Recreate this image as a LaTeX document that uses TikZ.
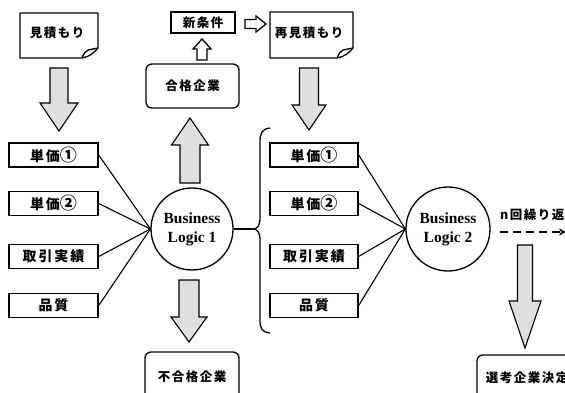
\documentclass[tikz,border=0pt]{standalone}
\usepackage{fontspec}
\usetikzlibrary{arrows.meta}
\setmainfont{Liberation Serif}
\newfontfamily\jplab{Noto Sans CJK JP}[LetterSpace=14]
\newfontfamily\jptxt{Noto Sans CJK JP}[LetterSpace=12]
\newfontfamily\blfont{Liberation Serif}
\newcommand\cd[1]{{\fontsize{17}{13}\selectfont #1}}
\newcommand\vblockarrow[6]{% x, ystart, ytip, shaft half, head half, head y
  \filldraw[barrow] (#1-#4,#2) -- (#1+#4,#2) -- (#1+#4,#6) -- (#1+#5,#6) -- (#1,#3) -- (#1-#5,#6) -- (#1-#4,#6) -- cycle;}
\newcommand\docshape[4]{% x1,y1,x2,y2
  \draw[docline] (#1,#2) -- (#3,#2) -- (#3,#4-10) .. controls (#3-4,#4-5) and (#3-9,#4-1) .. (#3-16,#4) -- (#1,#4) -- cycle;
  \draw[docline] (#3-16,#4) .. controls (#3-14,#4-4) and (#3-13,#4-7) .. (#3-10,#4-8) -- (#3,#4-10);}
\begin{document}
\begin{tikzpicture}[x=1pt,y=-1pt,
  docline/.style={line width=1.3pt,line join=round},
  lbox/.style={draw,line width=1.4pt,minimum width=89pt,minimum height=24pt,inner sep=0pt,
    font=\jplab\bfseries\fontsize{14}{14}\selectfont},
  rbox/.style={draw,line width=1.3pt,rounded corners=6pt,inner sep=0pt,
    font=\jptxt\bfseries\fontsize{12.5}{12.5}\selectfont},
  plain/.style={inner sep=0pt,font=\jptxt\bfseries\fontsize{12.5}{12.5}\selectfont},
  logic/.style={draw,circle,line width=1.3pt,inner sep=0pt,align=center,
    font=\blfont\bfseries\fontsize{15.5}{19}\selectfont},
  barrow/.style={draw=black,fill=gray!25,line width=1.1pt,line join=miter},
  warrow/.style={draw=black,fill=white,line width=1.3pt,line join=miter},
  link/.style={line width=1.1pt}]
\useasboundingbox (0,0) rectangle (565,393);
\clip (0,0) rectangle (565,393);
\fill[white] (0,0) rectangle (565,393);

% documents
\docshape{20}{13}{98}{58}
\node[plain] (doc1) at (57,33) {見積もり};
\docshape{270}{12}{353}{58}
\node[plain] (doc2) at (309,33) {再見積もり};

% top boxes
\node[draw,line width=1.3pt,minimum width=64pt,minimum height=21pt,inner sep=0pt,
  font=\jptxt\bfseries\fontsize{12.5}{12.5}\selectfont] (cond) at (203,22.5) {新条件};
\node[rbox,minimum width=93pt,minimum height=44pt] (pass) at (192.5,86) {合格企業};
\node[rbox,minimum width=94pt,minimum height=50pt] (fail) at (192,377) {不合格企業};
\node[rbox,minimum width=100pt,minimum height=45pt] (sel) at (527,377.5) {選考企業決定};

% left column
\node[lbox] (a1) at (53.5,155) {単価\cd{①}};
\node[lbox] (a2) at (53.5,203.5) {単価\cd{②}};
\node[lbox] (a3) at (53.5,256.5) {取引実績};
\node[lbox] (a4) at (53.5,305.5) {品質};
% right column
\node[lbox,minimum width=88pt] (b1) at (314,155) {単価\cd{①}};
\node[lbox,minimum width=88pt] (b2) at (314,203.5) {単価\cd{②}};
\node[lbox,minimum width=88pt] (b3) at (314,256.5) {取引実績};
\node[lbox,minimum width=88pt] (b4) at (314,305.5) {品質};

% circles
\node[logic,minimum size=82pt] (bl1) at (192,229) {Business\\Logic 1};
\node[logic,minimum size=84pt] (bl2) at (448,229) {Business\\Logic 2};

\foreach \n in {a1,a2,a3,a4} \draw[link] (\n.east) -- (bl1.west);
\foreach \n in {b1,b2,b3,b4} \draw[link] (\n.east) -- (bl2.west);

% brace
\coordinate (cusp) at (253,229);
\draw[line width=1.3pt] (bl1.east) -- (cusp);
\draw[line width=1.3pt] (270,128) .. controls (262,129) and (260,133) .. (260,142) -- (260,218)
  .. controls (260,226) and (257,229) .. (cusp)
  .. controls (257,229) and (260,232) .. (260,240) -- (260,320)
  .. controls (260,329) and (262,332) .. (270,333);

% block arrows
\vblockarrow{59}{68}{131}{9}{19}{103}
\vblockarrow{190}{183}{118}{10}{18.5}{145}
\vblockarrow{189}{280}{342}{10}{18}{317}
\vblockarrow{309}{68}{130}{9.5}{17}{105}
\vblockarrow{525}{245}{348}{7.5}{16}{301}
% white arrows
\filldraw[warrow] (197,60) -- (207,60) -- (207,49) -- (211,49) -- (202,39) -- (193,49) -- (197,49) -- cycle;
\filldraw[warrow] (245,19.5) -- (256,19.5) -- (256,16) -- (266,24) -- (256,32) -- (256,28.5) -- (245,28.5) -- cycle;

% repeat
\node[plain,anchor=west] (rep) at (500,215) {n回繰り返し};
\coordinate (d0) at (500,232);
\coordinate (d1) at (566,232);
\draw[line width=1.8pt,dash pattern=on 8pt off 5pt,-{Stealth[length=7pt,width=7pt]}] (d0) -- (d1);
\end{tikzpicture}
\end{document}
